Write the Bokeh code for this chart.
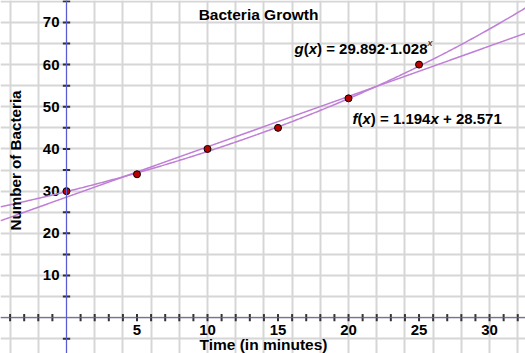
from bokeh.plotting import figure
from bokeh.models import Range1d, Span, Label, FixedTicker
from bokeh.core.properties import value
from bokeh.embed import file_html
from bokeh.resources import INLINE
import numpy as np

# Data
times = [0, 5, 10, 15, 20, 25]
bacteria = [30, 34, 40, 45, 52, 60]
lin_slope, lin_icpt = 1.194, 28.571
exp_a, exp_b = 29.892, 1.028
x_tick_vals = [v for v in range(-4, 33) if v != 0]
x_label_vals = [5, 10, 15, 20, 25, 30]
y_tick_vals = [v for v in range(-5, 76, 5) if v != 0]
y_label_vals = [10, 20, 30, 40, 50, 60, 70]

FONT = "Liberation Sans"
W, H = 525, 353
p = figure(width=W, height=H, output_backend="svg", toolbar_location=None,
           x_range=Range1d(-4.68, 32.55), y_range=Range1d(-8.5, 75.2),
           min_border=0, outline_line_color=None)
p.xaxis.visible = False
p.yaxis.visible = False
p.xgrid.ticker = FixedTicker(ticks=list(range(-4, 33, 2)))
p.ygrid.ticker = FixedTicker(ticks=list(range(-5, 76, 5)))
for g in (p.xgrid, p.ygrid):
    g.grid_line_color = "#d6d6d6"
    g.grid_line_width = 2
    g.grid_line_alpha = 1

# axes lines
p.add_layout(Span(location=0, dimension="width", line_color="#5a5ad2", line_width=1))
p.add_layout(Span(location=0, dimension="height", line_color="#5a5ad2", line_width=1))

# tick marks
xs = np.array(x_tick_vals, dtype=float)
p.segment(x0=xs, y0=-0.85, x1=xs, y1=0.85, line_color="#333333", line_width=2)
ys = np.array(y_tick_vals, dtype=float)
p.segment(x0=-0.26, y0=ys, x1=0.26, y1=ys, line_color="#333333", line_width=2)

# tick labels
p.text(x=x_label_vals, y=[0]*len(x_label_vals), text=[str(v) for v in x_label_vals],
       y_offset=7, text_align="center", text_baseline="top",
       text_font=value(FONT), text_font_style="bold", text_font_size="15px", text_color="#000000")
p.text(x=[0]*len(y_label_vals), y=y_label_vals, text=[str(v) for v in y_label_vals],
       x_offset=-7, text_align="right", text_baseline="middle",
       text_font=value(FONT), text_font_style="bold", text_font_size="15px", text_color="#000000")

# curves
xx = np.linspace(-4.68, 32.55, 300)
p.line(xx, lin_slope * xx + lin_icpt, line_color="#c07fd6", line_width=1.5)
p.line(xx, exp_a * exp_b ** xx, line_color="#c07fd6", line_width=1.5)

# points
p.scatter(times, bacteria, size=7, fill_color="#bb0000", line_color="#000000", line_width=1)

def lab(x, y, t, style="bold", size="13px", align="left", angle=0, base="middle"):
    p.add_layout(Label(x=x, y=y, x_units="screen", y_units="screen", text=t,
                       text_font=FONT, text_font_style=style, text_font_size=size,
                       text_align=align, text_baseline=base, angle=angle, text_color="#000000"))

# Screen y is from bottom
lab(258, H - 14, "Bacteria Growth", size="15.5px", align="center")
lab(263, H - 344, "Time (in minutes)", size="15.5px", align="center")
lab(15, H - 160, "Number of Bacteria", size="15.2px", align="center", angle=np.pi / 2)

WIDTHS = {"g": .611, "f": .333, "(": .333, ")": .333, "x": .556, " ": .278, "=": .584,
          ".": .278, "\u00b7": .333, "+": .584}
def tw(s, fs):
    return sum(WIDTHS.get(c, .556) for c in s) * fs

def formula(x0, yc, parts, fs=15):
    x = x0
    for t, style, sup in parts:
        f = fs * 0.65 if sup else fs
        lead = len(t) - len(t.lstrip(" "))
        x += lead * WIDTHS[" "] * f
        t = t.lstrip(" ")
        lab(x, H - yc + (6 if sup else 0), t, style=style, size=f"{f:.1f}px")
        x += tw(t, f)

formula(294, 48, [("g", "bold italic", False), ("(", "bold", False), ("x", "bold italic", False),
                  (") = 29.892\u00b71.028", "bold", False), ("x", "italic", True)])
formula(352, 118, [("f", "bold italic", False), ("(", "bold", False), ("x", "bold italic", False),
                   (") = 1.194", "bold", False), ("x", "bold italic", False), (" + 28.571", "bold", False)])

open("out.html", "w").write(file_html(p, INLINE))
